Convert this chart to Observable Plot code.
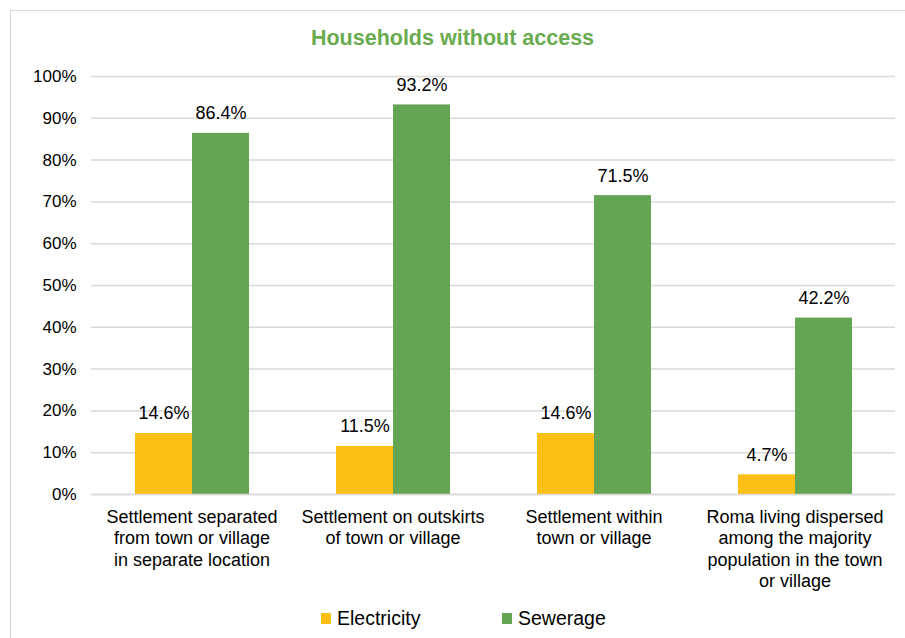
<!DOCTYPE html>
<html><head><meta charset="utf-8">
<script src="https://cdn.jsdelivr.net/npm/d3@7"></script>
<script src="https://cdn.jsdelivr.net/npm/@observablehq/plot@0.6"></script>
<style>
body{margin:0;background:#fff;font-family:"Liberation Sans",Arial,sans-serif;}
#wrap{position:relative;width:905px;height:638px;overflow:hidden;background:#fff;}
#frame{position:absolute;left:10px;top:10px;width:905px;height:660px;border:1.5px solid #d9d9d9;box-sizing:border-box;pointer-events:none;}
#title{position:absolute;left:0;width:905px;top:26px;text-align:center;color:#6aab4f;font-weight:bold;font-size:21.5px;}
#chart{position:absolute;left:0;top:0;}
#legend{position:absolute;top:607px;left:0;width:905px;font-size:19.5px;color:#000;}
.item{position:absolute;display:flex;align-items:center;}
.sw{width:10px;height:11px;margin-right:6px;}
</style></head>
<body>
<div id="wrap">
<div id="chart"></div>
<div id="frame"></div>
<div id="title">Households without access</div>
<div id="legend"></div>
</div>
<script>
const categories = ["Settlement separated from town or village in separate location","Settlement on outskirts of town or village","Settlement within town or village","Roma living dispersed among the majority population in the town or village"];
const categoryLabels = ["Settlement separated\nfrom town or village\nin separate location","Settlement on outskirts\nof town or village","Settlement within\ntown or village","Roma living dispersed\namong the majority\npopulation in the town\nor village"];
const series = ["Electricity","Sewerage"];
const electricity = [14.6, 11.5, 14.6, 4.7];
const sewerage = [86.4, 93.2, 71.5, 42.2];
const yTicks = [0,10,20,30,40,50,60,70,80,90,100];
const colors = ["#fbbf15","#64a553"];

const data = [];
categories.forEach((c,i)=>{
  data.push({category:c, series:"Electricity", value:electricity[i]});
  data.push({category:c, series:"Sewerage", value:sewerage[i]});
});
const labelMap = new Map(categories.map((c,i)=>[c,categoryLabels[i]]));

const chart = Plot.plot({
  width:905, height:600,
  marginTop:76, marginBottom:106, marginLeft:91, marginRight:10,
  style:{fontFamily:"Liberation Sans, Arial, sans-serif", fontSize:"18px", color:"#000", background:"transparent"},
  fx:{domain:categories, padding:0, label:null, axis:null},
  x:{domain:series, paddingInner:0, paddingOuter:0.76, axis:null},
  y:{domain:[0,100], label:null},
  color:{domain:series, range:colors},
  marks:[
    Plot.gridY(yTicks, {stroke:"#d9d9d9", strokeOpacity:1, strokeWidth:1.5}),
    Plot.axisY(yTicks, {tickSize:0, tickPadding:15, tickFormat:d=>d+"%", fontSize:17, label:null}),
    Plot.barY(data, {fx:"category", x:"series", y:"value", fill:"series"}),
    Plot.ruleY([0], {stroke:"#d9d9d9", strokeWidth:1.5}),
    Plot.text(data, {fx:"category", x:"series", y:"value", text:d=>d.value.toFixed(1)+"%", lineAnchor:"bottom", dy:-14, fontSize:18, fill:"#000"}),
    Plot.axisFx({anchor:"bottom", tickSize:0, tickPadding:13, tickFormat:d=>labelMap.get(d), lineHeight:1.19, fontSize:18, label:null})
  ]
});
document.getElementById("chart").appendChild(chart);

const legend = document.getElementById("legend");
const lx = [321, 502];
series.forEach((s,i)=>{
  const it = document.createElement("div");
  it.className = "item";
  it.style.left = lx[i]+"px";
  const sw = document.createElement("div");
  sw.className = "sw";
  sw.style.background = colors[i];
  const t = document.createElement("span");
  t.textContent = s;
  it.appendChild(sw); it.appendChild(t);
  legend.appendChild(it);
});
</script>
</body></html>
